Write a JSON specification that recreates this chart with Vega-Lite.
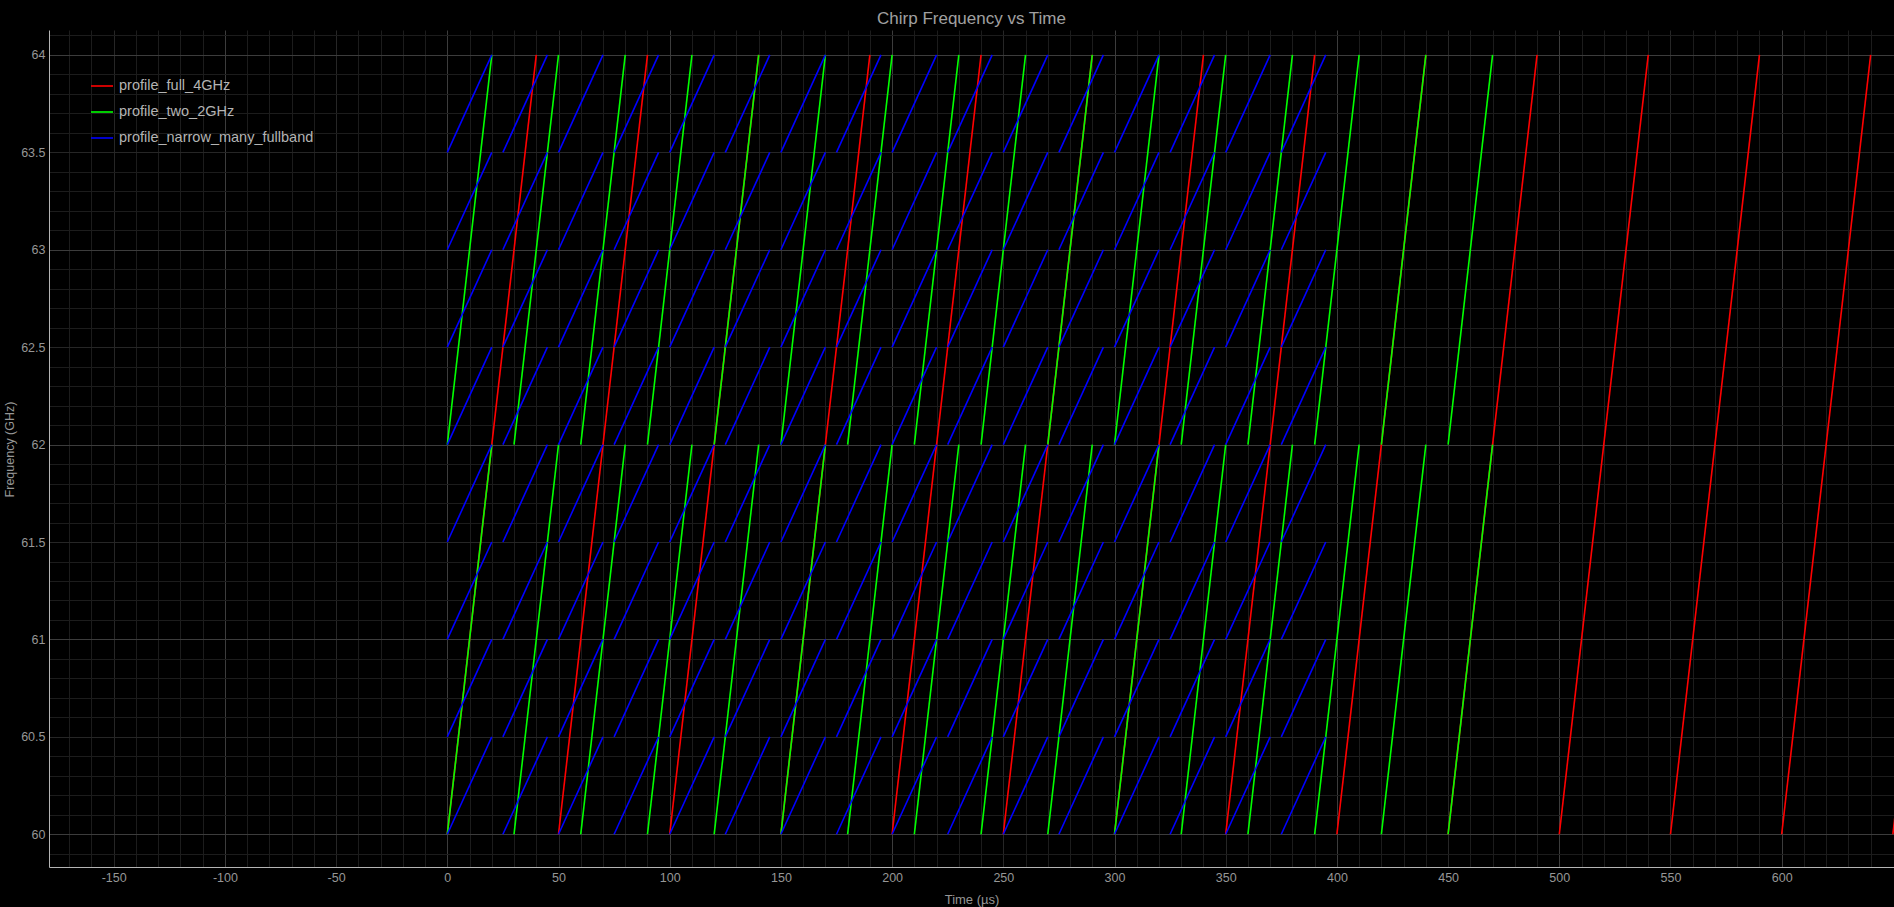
{
  "$schema": "https://vega.github.io/schema/vega-lite/v6.json",
  "width": 1845,
  "height": 837,
  "autosize": {"type": "none"},
  "padding": {"left": 49, "top": 30, "right": 0, "bottom": 40},
  "background": "#000000",
  "title": {"text": "Chirp Frequency vs Time", "fontSize": 17, "font": "Liberation Sans", "fontWeight": "normal", "color": "#a0a0a0", "anchor": "middle", "baseline": "alphabetic", "offset": -12},
  "config": {
    "view": {"stroke": null, "fill": "#000000"},
    "axis": {"labelFont": "Liberation Sans", "titleFont": "Liberation Sans", "labelColor": "#969696", "titleColor": "#969696", "titleFontWeight": "normal", "ticks": false, "domainColor": "#b4b4b4", "domainWidth": 1, "gridWidth": 1, "gridOpacity": 1, "labelOverlap": false, "labelBound": false, "labelFlush": false}
  },
  "data": {"values": [
    {"p":"profile_full_4GHz","t0":0,"t1":40,"f0":60,"f1":64},
    {"p":"profile_full_4GHz","t0":50,"t1":90,"f0":60,"f1":64},
    {"p":"profile_full_4GHz","t0":100,"t1":140,"f0":60,"f1":64},
    {"p":"profile_full_4GHz","t0":150,"t1":190,"f0":60,"f1":64},
    {"p":"profile_full_4GHz","t0":200,"t1":240,"f0":60,"f1":64},
    {"p":"profile_full_4GHz","t0":250,"t1":290,"f0":60,"f1":64},
    {"p":"profile_full_4GHz","t0":300,"t1":340,"f0":60,"f1":64},
    {"p":"profile_full_4GHz","t0":350,"t1":390,"f0":60,"f1":64},
    {"p":"profile_full_4GHz","t0":400,"t1":440,"f0":60,"f1":64},
    {"p":"profile_full_4GHz","t0":450,"t1":490,"f0":60,"f1":64},
    {"p":"profile_full_4GHz","t0":500,"t1":540,"f0":60,"f1":64},
    {"p":"profile_full_4GHz","t0":550,"t1":590,"f0":60,"f1":64},
    {"p":"profile_full_4GHz","t0":600,"t1":640,"f0":60,"f1":64},
    {"p":"profile_full_4GHz","t0":650,"t1":690,"f0":60,"f1":64},
    {"p":"profile_two_2GHz","t0":0,"t1":20,"f0":60,"f1":62},
    {"p":"profile_two_2GHz","t0":0,"t1":20,"f0":62,"f1":64},
    {"p":"profile_two_2GHz","t0":30,"t1":50,"f0":60,"f1":62},
    {"p":"profile_two_2GHz","t0":30,"t1":50,"f0":62,"f1":64},
    {"p":"profile_two_2GHz","t0":60,"t1":80,"f0":60,"f1":62},
    {"p":"profile_two_2GHz","t0":60,"t1":80,"f0":62,"f1":64},
    {"p":"profile_two_2GHz","t0":90,"t1":110,"f0":60,"f1":62},
    {"p":"profile_two_2GHz","t0":90,"t1":110,"f0":62,"f1":64},
    {"p":"profile_two_2GHz","t0":120,"t1":140,"f0":60,"f1":62},
    {"p":"profile_two_2GHz","t0":120,"t1":140,"f0":62,"f1":64},
    {"p":"profile_two_2GHz","t0":150,"t1":170,"f0":60,"f1":62},
    {"p":"profile_two_2GHz","t0":150,"t1":170,"f0":62,"f1":64},
    {"p":"profile_two_2GHz","t0":180,"t1":200,"f0":60,"f1":62},
    {"p":"profile_two_2GHz","t0":180,"t1":200,"f0":62,"f1":64},
    {"p":"profile_two_2GHz","t0":210,"t1":230,"f0":60,"f1":62},
    {"p":"profile_two_2GHz","t0":210,"t1":230,"f0":62,"f1":64},
    {"p":"profile_two_2GHz","t0":240,"t1":260,"f0":60,"f1":62},
    {"p":"profile_two_2GHz","t0":240,"t1":260,"f0":62,"f1":64},
    {"p":"profile_two_2GHz","t0":270,"t1":290,"f0":60,"f1":62},
    {"p":"profile_two_2GHz","t0":270,"t1":290,"f0":62,"f1":64},
    {"p":"profile_two_2GHz","t0":300,"t1":320,"f0":60,"f1":62},
    {"p":"profile_two_2GHz","t0":300,"t1":320,"f0":62,"f1":64},
    {"p":"profile_two_2GHz","t0":330,"t1":350,"f0":60,"f1":62},
    {"p":"profile_two_2GHz","t0":330,"t1":350,"f0":62,"f1":64},
    {"p":"profile_two_2GHz","t0":360,"t1":380,"f0":60,"f1":62},
    {"p":"profile_two_2GHz","t0":360,"t1":380,"f0":62,"f1":64},
    {"p":"profile_two_2GHz","t0":390,"t1":410,"f0":60,"f1":62},
    {"p":"profile_two_2GHz","t0":390,"t1":410,"f0":62,"f1":64},
    {"p":"profile_two_2GHz","t0":420,"t1":440,"f0":60,"f1":62},
    {"p":"profile_two_2GHz","t0":420,"t1":440,"f0":62,"f1":64},
    {"p":"profile_two_2GHz","t0":450,"t1":470,"f0":60,"f1":62},
    {"p":"profile_two_2GHz","t0":450,"t1":470,"f0":62,"f1":64},
    {"p":"profile_narrow_many_fullband","t0":0,"t1":20,"f0":60,"f1":60.5},
    {"p":"profile_narrow_many_fullband","t0":0,"t1":20,"f0":60.5,"f1":61},
    {"p":"profile_narrow_many_fullband","t0":0,"t1":20,"f0":61,"f1":61.5},
    {"p":"profile_narrow_many_fullband","t0":0,"t1":20,"f0":61.5,"f1":62},
    {"p":"profile_narrow_many_fullband","t0":0,"t1":20,"f0":62,"f1":62.5},
    {"p":"profile_narrow_many_fullband","t0":0,"t1":20,"f0":62.5,"f1":63},
    {"p":"profile_narrow_many_fullband","t0":0,"t1":20,"f0":63,"f1":63.5},
    {"p":"profile_narrow_many_fullband","t0":0,"t1":20,"f0":63.5,"f1":64},
    {"p":"profile_narrow_many_fullband","t0":25,"t1":45,"f0":60,"f1":60.5},
    {"p":"profile_narrow_many_fullband","t0":25,"t1":45,"f0":60.5,"f1":61},
    {"p":"profile_narrow_many_fullband","t0":25,"t1":45,"f0":61,"f1":61.5},
    {"p":"profile_narrow_many_fullband","t0":25,"t1":45,"f0":61.5,"f1":62},
    {"p":"profile_narrow_many_fullband","t0":25,"t1":45,"f0":62,"f1":62.5},
    {"p":"profile_narrow_many_fullband","t0":25,"t1":45,"f0":62.5,"f1":63},
    {"p":"profile_narrow_many_fullband","t0":25,"t1":45,"f0":63,"f1":63.5},
    {"p":"profile_narrow_many_fullband","t0":25,"t1":45,"f0":63.5,"f1":64},
    {"p":"profile_narrow_many_fullband","t0":50,"t1":70,"f0":60,"f1":60.5},
    {"p":"profile_narrow_many_fullband","t0":50,"t1":70,"f0":60.5,"f1":61},
    {"p":"profile_narrow_many_fullband","t0":50,"t1":70,"f0":61,"f1":61.5},
    {"p":"profile_narrow_many_fullband","t0":50,"t1":70,"f0":61.5,"f1":62},
    {"p":"profile_narrow_many_fullband","t0":50,"t1":70,"f0":62,"f1":62.5},
    {"p":"profile_narrow_many_fullband","t0":50,"t1":70,"f0":62.5,"f1":63},
    {"p":"profile_narrow_many_fullband","t0":50,"t1":70,"f0":63,"f1":63.5},
    {"p":"profile_narrow_many_fullband","t0":50,"t1":70,"f0":63.5,"f1":64},
    {"p":"profile_narrow_many_fullband","t0":75,"t1":95,"f0":60,"f1":60.5},
    {"p":"profile_narrow_many_fullband","t0":75,"t1":95,"f0":60.5,"f1":61},
    {"p":"profile_narrow_many_fullband","t0":75,"t1":95,"f0":61,"f1":61.5},
    {"p":"profile_narrow_many_fullband","t0":75,"t1":95,"f0":61.5,"f1":62},
    {"p":"profile_narrow_many_fullband","t0":75,"t1":95,"f0":62,"f1":62.5},
    {"p":"profile_narrow_many_fullband","t0":75,"t1":95,"f0":62.5,"f1":63},
    {"p":"profile_narrow_many_fullband","t0":75,"t1":95,"f0":63,"f1":63.5},
    {"p":"profile_narrow_many_fullband","t0":75,"t1":95,"f0":63.5,"f1":64},
    {"p":"profile_narrow_many_fullband","t0":100,"t1":120,"f0":60,"f1":60.5},
    {"p":"profile_narrow_many_fullband","t0":100,"t1":120,"f0":60.5,"f1":61},
    {"p":"profile_narrow_many_fullband","t0":100,"t1":120,"f0":61,"f1":61.5},
    {"p":"profile_narrow_many_fullband","t0":100,"t1":120,"f0":61.5,"f1":62},
    {"p":"profile_narrow_many_fullband","t0":100,"t1":120,"f0":62,"f1":62.5},
    {"p":"profile_narrow_many_fullband","t0":100,"t1":120,"f0":62.5,"f1":63},
    {"p":"profile_narrow_many_fullband","t0":100,"t1":120,"f0":63,"f1":63.5},
    {"p":"profile_narrow_many_fullband","t0":100,"t1":120,"f0":63.5,"f1":64},
    {"p":"profile_narrow_many_fullband","t0":125,"t1":145,"f0":60,"f1":60.5},
    {"p":"profile_narrow_many_fullband","t0":125,"t1":145,"f0":60.5,"f1":61},
    {"p":"profile_narrow_many_fullband","t0":125,"t1":145,"f0":61,"f1":61.5},
    {"p":"profile_narrow_many_fullband","t0":125,"t1":145,"f0":61.5,"f1":62},
    {"p":"profile_narrow_many_fullband","t0":125,"t1":145,"f0":62,"f1":62.5},
    {"p":"profile_narrow_many_fullband","t0":125,"t1":145,"f0":62.5,"f1":63},
    {"p":"profile_narrow_many_fullband","t0":125,"t1":145,"f0":63,"f1":63.5},
    {"p":"profile_narrow_many_fullband","t0":125,"t1":145,"f0":63.5,"f1":64},
    {"p":"profile_narrow_many_fullband","t0":150,"t1":170,"f0":60,"f1":60.5},
    {"p":"profile_narrow_many_fullband","t0":150,"t1":170,"f0":60.5,"f1":61},
    {"p":"profile_narrow_many_fullband","t0":150,"t1":170,"f0":61,"f1":61.5},
    {"p":"profile_narrow_many_fullband","t0":150,"t1":170,"f0":61.5,"f1":62},
    {"p":"profile_narrow_many_fullband","t0":150,"t1":170,"f0":62,"f1":62.5},
    {"p":"profile_narrow_many_fullband","t0":150,"t1":170,"f0":62.5,"f1":63},
    {"p":"profile_narrow_many_fullband","t0":150,"t1":170,"f0":63,"f1":63.5},
    {"p":"profile_narrow_many_fullband","t0":150,"t1":170,"f0":63.5,"f1":64},
    {"p":"profile_narrow_many_fullband","t0":175,"t1":195,"f0":60,"f1":60.5},
    {"p":"profile_narrow_many_fullband","t0":175,"t1":195,"f0":60.5,"f1":61},
    {"p":"profile_narrow_many_fullband","t0":175,"t1":195,"f0":61,"f1":61.5},
    {"p":"profile_narrow_many_fullband","t0":175,"t1":195,"f0":61.5,"f1":62},
    {"p":"profile_narrow_many_fullband","t0":175,"t1":195,"f0":62,"f1":62.5},
    {"p":"profile_narrow_many_fullband","t0":175,"t1":195,"f0":62.5,"f1":63},
    {"p":"profile_narrow_many_fullband","t0":175,"t1":195,"f0":63,"f1":63.5},
    {"p":"profile_narrow_many_fullband","t0":175,"t1":195,"f0":63.5,"f1":64},
    {"p":"profile_narrow_many_fullband","t0":200,"t1":220,"f0":60,"f1":60.5},
    {"p":"profile_narrow_many_fullband","t0":200,"t1":220,"f0":60.5,"f1":61},
    {"p":"profile_narrow_many_fullband","t0":200,"t1":220,"f0":61,"f1":61.5},
    {"p":"profile_narrow_many_fullband","t0":200,"t1":220,"f0":61.5,"f1":62},
    {"p":"profile_narrow_many_fullband","t0":200,"t1":220,"f0":62,"f1":62.5},
    {"p":"profile_narrow_many_fullband","t0":200,"t1":220,"f0":62.5,"f1":63},
    {"p":"profile_narrow_many_fullband","t0":200,"t1":220,"f0":63,"f1":63.5},
    {"p":"profile_narrow_many_fullband","t0":200,"t1":220,"f0":63.5,"f1":64},
    {"p":"profile_narrow_many_fullband","t0":225,"t1":245,"f0":60,"f1":60.5},
    {"p":"profile_narrow_many_fullband","t0":225,"t1":245,"f0":60.5,"f1":61},
    {"p":"profile_narrow_many_fullband","t0":225,"t1":245,"f0":61,"f1":61.5},
    {"p":"profile_narrow_many_fullband","t0":225,"t1":245,"f0":61.5,"f1":62},
    {"p":"profile_narrow_many_fullband","t0":225,"t1":245,"f0":62,"f1":62.5},
    {"p":"profile_narrow_many_fullband","t0":225,"t1":245,"f0":62.5,"f1":63},
    {"p":"profile_narrow_many_fullband","t0":225,"t1":245,"f0":63,"f1":63.5},
    {"p":"profile_narrow_many_fullband","t0":225,"t1":245,"f0":63.5,"f1":64},
    {"p":"profile_narrow_many_fullband","t0":250,"t1":270,"f0":60,"f1":60.5},
    {"p":"profile_narrow_many_fullband","t0":250,"t1":270,"f0":60.5,"f1":61},
    {"p":"profile_narrow_many_fullband","t0":250,"t1":270,"f0":61,"f1":61.5},
    {"p":"profile_narrow_many_fullband","t0":250,"t1":270,"f0":61.5,"f1":62},
    {"p":"profile_narrow_many_fullband","t0":250,"t1":270,"f0":62,"f1":62.5},
    {"p":"profile_narrow_many_fullband","t0":250,"t1":270,"f0":62.5,"f1":63},
    {"p":"profile_narrow_many_fullband","t0":250,"t1":270,"f0":63,"f1":63.5},
    {"p":"profile_narrow_many_fullband","t0":250,"t1":270,"f0":63.5,"f1":64},
    {"p":"profile_narrow_many_fullband","t0":275,"t1":295,"f0":60,"f1":60.5},
    {"p":"profile_narrow_many_fullband","t0":275,"t1":295,"f0":60.5,"f1":61},
    {"p":"profile_narrow_many_fullband","t0":275,"t1":295,"f0":61,"f1":61.5},
    {"p":"profile_narrow_many_fullband","t0":275,"t1":295,"f0":61.5,"f1":62},
    {"p":"profile_narrow_many_fullband","t0":275,"t1":295,"f0":62,"f1":62.5},
    {"p":"profile_narrow_many_fullband","t0":275,"t1":295,"f0":62.5,"f1":63},
    {"p":"profile_narrow_many_fullband","t0":275,"t1":295,"f0":63,"f1":63.5},
    {"p":"profile_narrow_many_fullband","t0":275,"t1":295,"f0":63.5,"f1":64},
    {"p":"profile_narrow_many_fullband","t0":300,"t1":320,"f0":60,"f1":60.5},
    {"p":"profile_narrow_many_fullband","t0":300,"t1":320,"f0":60.5,"f1":61},
    {"p":"profile_narrow_many_fullband","t0":300,"t1":320,"f0":61,"f1":61.5},
    {"p":"profile_narrow_many_fullband","t0":300,"t1":320,"f0":61.5,"f1":62},
    {"p":"profile_narrow_many_fullband","t0":300,"t1":320,"f0":62,"f1":62.5},
    {"p":"profile_narrow_many_fullband","t0":300,"t1":320,"f0":62.5,"f1":63},
    {"p":"profile_narrow_many_fullband","t0":300,"t1":320,"f0":63,"f1":63.5},
    {"p":"profile_narrow_many_fullband","t0":300,"t1":320,"f0":63.5,"f1":64},
    {"p":"profile_narrow_many_fullband","t0":325,"t1":345,"f0":60,"f1":60.5},
    {"p":"profile_narrow_many_fullband","t0":325,"t1":345,"f0":60.5,"f1":61},
    {"p":"profile_narrow_many_fullband","t0":325,"t1":345,"f0":61,"f1":61.5},
    {"p":"profile_narrow_many_fullband","t0":325,"t1":345,"f0":61.5,"f1":62},
    {"p":"profile_narrow_many_fullband","t0":325,"t1":345,"f0":62,"f1":62.5},
    {"p":"profile_narrow_many_fullband","t0":325,"t1":345,"f0":62.5,"f1":63},
    {"p":"profile_narrow_many_fullband","t0":325,"t1":345,"f0":63,"f1":63.5},
    {"p":"profile_narrow_many_fullband","t0":325,"t1":345,"f0":63.5,"f1":64},
    {"p":"profile_narrow_many_fullband","t0":350,"t1":370,"f0":60,"f1":60.5},
    {"p":"profile_narrow_many_fullband","t0":350,"t1":370,"f0":60.5,"f1":61},
    {"p":"profile_narrow_many_fullband","t0":350,"t1":370,"f0":61,"f1":61.5},
    {"p":"profile_narrow_many_fullband","t0":350,"t1":370,"f0":61.5,"f1":62},
    {"p":"profile_narrow_many_fullband","t0":350,"t1":370,"f0":62,"f1":62.5},
    {"p":"profile_narrow_many_fullband","t0":350,"t1":370,"f0":62.5,"f1":63},
    {"p":"profile_narrow_many_fullband","t0":350,"t1":370,"f0":63,"f1":63.5},
    {"p":"profile_narrow_many_fullband","t0":350,"t1":370,"f0":63.5,"f1":64},
    {"p":"profile_narrow_many_fullband","t0":375,"t1":395,"f0":60,"f1":60.5},
    {"p":"profile_narrow_many_fullband","t0":375,"t1":395,"f0":60.5,"f1":61},
    {"p":"profile_narrow_many_fullband","t0":375,"t1":395,"f0":61,"f1":61.5},
    {"p":"profile_narrow_many_fullband","t0":375,"t1":395,"f0":61.5,"f1":62},
    {"p":"profile_narrow_many_fullband","t0":375,"t1":395,"f0":62,"f1":62.5},
    {"p":"profile_narrow_many_fullband","t0":375,"t1":395,"f0":62.5,"f1":63},
    {"p":"profile_narrow_many_fullband","t0":375,"t1":395,"f0":63,"f1":63.5},
    {"p":"profile_narrow_many_fullband","t0":375,"t1":395,"f0":63.5,"f1":64}
  ]},
  "mark": {"type": "rule", "clip": true, "strokeCap": "butt"},
  "encoding": {
    "x": {"field": "t0", "type": "quantitative",
      "scale": {"domain": [-179.1, 650.5], "nice": false, "zero": false},
      "axis": {
        "title": "Time (µs)", "titleFontSize": 13, "titleX": 922.5, "titleY": 26, "titleBaseline": "top",
        "labelFontSize": 12.5, "labelPadding": 4,
        "values": [-170,-160,-150,-140,-130,-120,-110,-100,-90,-80,-70,-60,-50,-40,-30,-20,-10,0,10,20,30,40,50,60,70,80,90,100,110,120,130,140,150,160,170,180,190,200,210,220,230,240,250,260,270,280,290,300,310,320,330,340,350,360,370,380,390,400,410,420,430,440,450,460,470,480,490,500,510,520,530,540,550,560,570,580,590,600,610,620,630,640],
        "labelExpr": "datum.value % 50 === 0 ? '' + datum.value : ''",
        "gridColor": {"condition": [{"test": "datum.value % 100 === 0", "value": "#3c3c3c"}, {"test": "datum.value % 50 === 0", "value": "#262626"}], "value": "#1c1c1c"}
      }},
    "x2": {"field": "t1"},
    "y": {"field": "f0", "type": "quantitative",
      "scale": {"domain": [59.832, 64.128], "nice": false, "zero": false},
      "axis": {
        "title": "Frequency (GHz)", "titleFontSize": 12.5, "titleX": -40, "titleY": 419, "titleBaseline": "middle", "titleAngle": 270,
        "labelFontSize": 12.5, "labelPadding": 4,
        "values": [59.9,60,60.1,60.2,60.3,60.4,60.5,60.6,60.7,60.8,60.9,61,61.1,61.2,61.3,61.4,61.5,61.6,61.7,61.8,61.9,62,62.1,62.2,62.3,62.4,62.5,62.6,62.7,62.8,62.9,63,63.1,63.2,63.3,63.4,63.5,63.6,63.7,63.8,63.9,64,64.1],
        "labelExpr": "abs(datum.value * 2 - round(datum.value * 2)) < 0.001 ? '' + datum.value : ''",
        "gridColor": {"condition": [{"test": "abs(datum.value - round(datum.value)) < 0.001", "value": "#3c3c3c"}, {"test": "abs(datum.value * 2 - round(datum.value * 2)) < 0.001", "value": "#262626"}], "value": "#1c1c1c"}
      }},
    "y2": {"field": "f1"},
    "color": {"field": "p", "type": "nominal",
      "scale": {"domain": ["profile_full_4GHz", "profile_two_2GHz", "profile_narrow_many_fullband"], "range": ["#ff0000", "#00ff00", "#0000ff"]},
      "legend": {"orient": "none", "legendX": 41, "legendY": 44, "title": null, "padding": 0, "symbolType": "stroke", "symbolSize": 484, "symbolStrokeWidth": 2.5, "labelFont": "Liberation Sans", "labelFontSize": 14.5, "labelColor": "#b4b4b4", "labelOffset": 5, "rowPadding": 7, "labelLimit": 400}},
    "strokeWidth": {"field": "p", "type": "nominal",
      "scale": {"domain": ["profile_full_4GHz", "profile_two_2GHz", "profile_narrow_many_fullband"], "range": [1.6, 1.6, 2.6]},
      "legend": null}
  }
}
